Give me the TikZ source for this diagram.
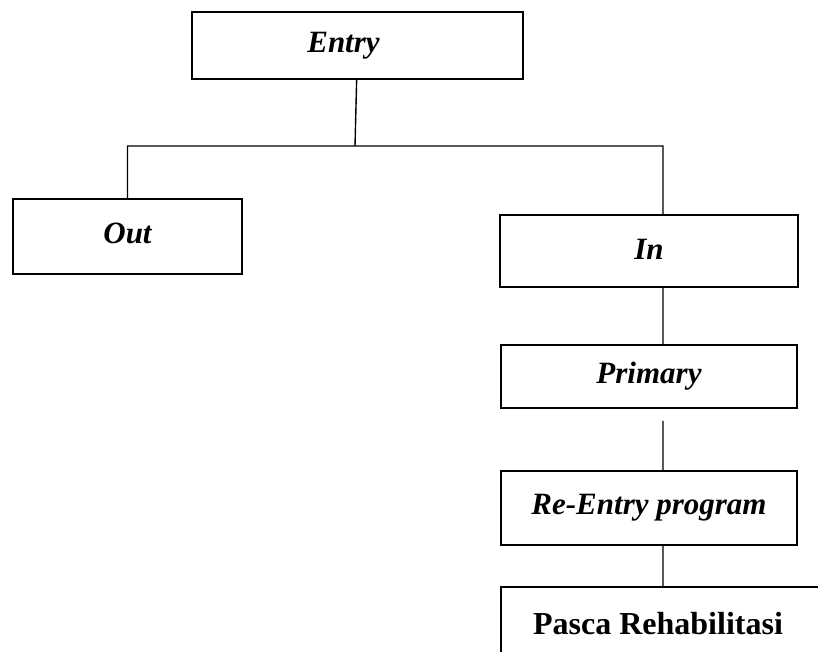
\documentclass[tikz,border=0pt]{standalone}
\usepackage{fontspec}
\setmainfont{Liberation Serif}

\begin{document}
\begin{tikzpicture}[x=1pt,y=-1pt,line width=1.4pt]
		\tikzstyle{box}=[draw, line width=1.8pt, inner sep=0pt, font=\fontsize{31}{37}\selectfont\bfseries\itshape]
		\clip (0,0) rectangle (818,652);
		\node[box, minimum width=331pt, minimum height=67pt] (entry) at (357.5,45.5) {Entry\kern28pt};
		\node[box, minimum width=229pt, minimum height=75pt] (out) at (127.5,236.5) {\raisebox{6pt}{Out}};
		\node[box, minimum width=298pt, minimum height=72pt] (in) at (649,251) {\raisebox{4pt}{In}};
		\node[box, minimum width=296pt, minimum height=63pt] (prim) at (649,376.5) {Primary};
		\node[box, minimum width=296pt, minimum height=74pt] (reentry) at (649,508) {Re-Entry program};
		\node[box, minimum width=322pt, minimum height=74pt, font=\fontsize{32}{38}\selectfont\bfseries] (pasca) at (662,624) {Pasca Rehabilitasi\kern8pt};
		\coordinate (split) at (355,146);
		\path[draw]
		(entry) -- (split)
		(split) -| (out)
		(split) -| ([xshift=14pt]in.north)
		([xshift=14pt]in.south) -- ([xshift=14pt]prim.north)
		([xshift=14pt,yshift=-12pt]prim.south) -- ([xshift=14pt]reentry.north)
		([xshift=14pt]reentry.south) -- ([xshift=1pt]pasca.north);
		;
	\end{tikzpicture}
\end{document}
